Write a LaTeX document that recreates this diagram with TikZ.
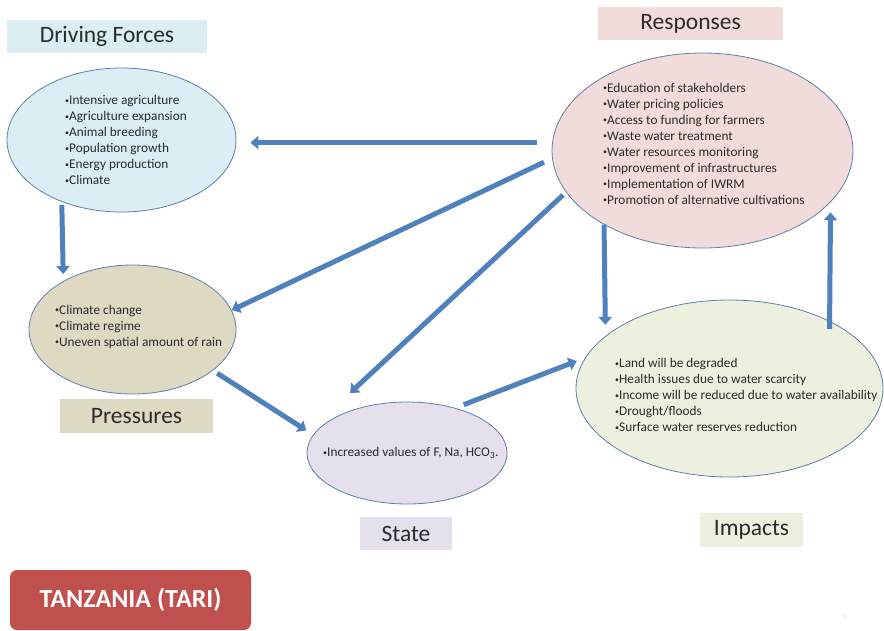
\documentclass[tikz,border=0pt]{standalone}
\usepackage{fontspec}
\setmainfont{Carlito}
\usetikzlibrary{shapes.geometric,arrows.meta}
\definecolor{flowblue}{HTML}{4F81BD}
\definecolor{rimblue}{HTML}{5F7FA8}
\definecolor{textgray}{HTML}{2B2B2B}
\definecolor{drvfill}{HTML}{DAEEF3}
\definecolor{respfill}{HTML}{F2DCDB}
\definecolor{prsfill}{HTML}{DDD9C3}
\definecolor{statefill}{HTML}{E5E0EC}
\definecolor{impfill}{HTML}{EBF1DE}
\definecolor{tarired}{HTML}{C0504D}
\newcommand{\itm}{{\fontsize{8}{8}\selectfont\raisebox{0.35ex}{•}}}
\begin{document}
\begin{tikzpicture}[x=1pt,y=-1pt,
    blob/.style={ellipse,draw=rimblue,line width=0.8pt,inner sep=0pt},
    tag/.style={inner sep=0pt,text=textgray,font=\fontsize{23.5}{28}\selectfont},
    list/.style={align=left,anchor=west,inner sep=0pt,text=textgray,font=\fontsize{13.3}{16}\selectfont},
    flow/.style={draw=flowblue,line width=5pt,-{Triangle[width=13pt,length=8pt]}}]
    \useasboundingbox (0, 0) rectangle (884, 630);
    % ellipses
    \node[blob, fill=drvfill, minimum width=229pt, minimum height=144pt] (drv) at (121.5, 140) {};
    \node[blob, fill=respfill, minimum width=301pt, minimum height=195pt] (resp) at (702.5, 150.5) {};
    \node[blob, fill=prsfill, minimum width=207pt, minimum height=129pt] (prs) at (132.5, 329.5) {};
    \node[blob, fill=statefill, minimum width=200pt, minimum height=102pt] (state) at (407, 453) {};
    \node[blob, fill=impfill, minimum width=307pt, minimum height=177pt] (imp) at (729.5, 388.5) {};
    % headings
    \node[tag, fill=drvfill, minimum width=200pt, minimum height=33pt] (drvtag) at (107, 36.5) {Driving Forces};
    \node[tag, fill=respfill, minimum width=185pt, minimum height=33pt] (resptag) at (690.5, 23.5) {Responses};
    \node[tag, fill=prsfill, minimum width=153pt, minimum height=34pt] (prstag) at (136.5, 416) {Pressures};
    \node[tag, fill=statefill, minimum width=92pt, minimum height=33pt] (statetag) at (406, 533.5) {State};
    \node[tag, fill=impfill, minimum width=103pt, minimum height=34pt] (imptag) at (751.5, 530) {Impacts};
    % lists
    \node[list] (drvtxt) at (65, 140) {\itm Intensive agriculture\\\itm Agriculture expansion\\\itm Animal breeding\\\itm Population growth\\\itm Energy production\\\itm Climate};
    \node[list] (resptxt) at (603, 143.5) {\itm Education of stakeholders\\\itm Water pricing policies\\\itm Access to funding for farmers\\\itm Waste water treatment\\\itm Water resources monitoring\\\itm Improvement of infrastructures\\\itm Implementation of IWRM\\\itm Promotion of alternative cultivations};
    \node[list] (prstxt) at (55, 326.5) {\itm Climate change\\\itm Climate regime\\\itm Uneven spatial amount of rain};
    \node[list] (statetxt) at (323, 453) {\itm Increased values of F, Na, HCO\textsubscript{3}.};
    \node[list] (imptxt) at (615, 395) {\itm Land will be degraded\\\itm Health issues due to water scarcity\\\itm Income will be reduced due to water availability\\\itm Drought/floods\\\itm Surface water reserves reduction};
    % arrows
    \coordinate (statetip) at (350, 393);
    \draw[flow, shorten <=15pt, shorten >=14pt] (resp.177) -- (resp.177 -| drv.east);
    \draw[flow, shorten <=3pt, shorten >=7pt] (drv.226.6) -- (prs.145.5);
    \draw[flow, shorten <=9pt] (resp.183) -- (prs.11);
    \draw[flow, shorten <=4pt] (resp.197) -- (statetip);
    \draw[flow, shorten <=5pt, shorten >=8pt] (prs.-27.2) -- (state.169);
    \draw[flow, shorten <=9pt, shorten >=9pt] (state.43) -- (imp.168.5);
    \draw[flow, shorten >=11pt] (resp.217.3) -- (imp.157.3);
    \draw[flow, shorten <=-8pt, shorten >=10pt] (imp.34.2) -- (resp.-22.7);
    % country box
    \node[fill=tarired, rounded corners=7pt, minimum width=241pt, minimum height=60pt, text=white,
          font=\fontsize{26}{30}\selectfont\bfseries] (tari) at (130.5, 600) {TANZANIA (TARI)};
    \node[text=black!30, font=\fontsize{5}{6}\selectfont] (pageno) at (845, 617) {1};
\end{tikzpicture}
\end{document}
